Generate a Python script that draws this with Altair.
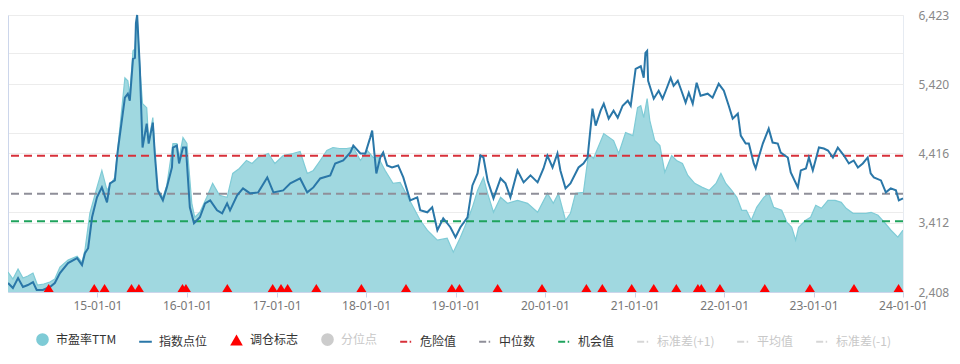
import altair as alt
import pandas as pd

# ---------------- data ----------------
index_dates = [
    "2014-01-01", "2014-01-21", "2014-02-11", "2014-03-03", "2014-03-23", "2014-04-13", "2014-04-28", "2014-05-23",
    "2014-06-21", "2014-07-11", "2014-08-01", "2014-09-03", "2014-10-10", "2014-10-30", "2014-11-11", "2014-11-24",
    "2014-12-10", "2014-12-30",
    "2015-01-19", "2015-02-09", "2015-02-21", "2015-03-13", "2015-03-25", "2015-04-23", "2015-05-05", "2015-05-13",
    "2015-05-26", "2015-06-03", "2015-06-07", "2015-06-12", "2015-06-23", "2015-07-04", "2015-07-21", "2015-07-29",
    "2015-08-15", "2015-08-23", "2015-09-04", "2015-09-25", "2015-10-11", "2015-11-01", "2015-11-05", "2015-11-21",
    "2015-11-30", "2015-12-16", "2015-12-28",
    "2016-01-13", "2016-01-30", "2016-02-23", "2016-03-15", "2016-04-05", "2016-05-03", "2016-05-24", "2016-06-13",
    "2016-06-25", "2016-07-24", "2016-08-17", "2016-09-15", "2016-10-18", "2016-11-24", "2016-12-19",
    "2017-01-28", "2017-02-26", "2017-04-07", "2017-05-06", "2017-05-31", "2017-06-28", "2017-08-08", "2017-08-28",
    "2017-09-30", "2017-10-29", "2017-11-10", "2017-12-09", "2017-12-29",
    "2018-01-18", "2018-01-26", "2018-02-12", "2018-02-28", "2018-03-12", "2018-03-28", "2018-04-17", "2018-05-12",
    "2018-06-02", "2018-06-30", "2018-07-29", "2018-08-10", "2018-09-08", "2018-09-28", "2018-10-19", "2018-11-12",
    "2018-12-11",
    "2019-01-01", "2019-01-21", "2019-02-19", "2019-03-11", "2019-04-01", "2019-04-13", "2019-04-25", "2019-05-12",
    "2019-06-05", "2019-07-04", "2019-07-24", "2019-08-13", "2019-09-11", "2019-10-06", "2019-11-03", "2019-12-02",
    "2019-12-26",
    "2020-01-11", "2020-02-01", "2020-02-21", "2020-03-04", "2020-03-25", "2020-04-14", "2020-05-17", "2020-06-06",
    "2020-06-23", "2020-07-13", "2020-07-26", "2020-08-15", "2020-08-28", "2020-09-17", "2020-10-07", "2020-10-24",
    "2020-11-13", "2020-12-04", "2020-12-16",
    "2021-01-05", "2021-01-26", "2021-02-07", "2021-02-14", "2021-02-21", "2021-02-25", "2021-03-20", "2021-04-09",
    "2021-04-25", "2021-05-08", "2021-05-28", "2021-06-09", "2021-06-26", "2021-07-08", "2021-07-28", "2021-08-10",
    "2021-08-26", "2021-09-11", "2021-09-27", "2021-10-26", "2021-11-15", "2021-12-10", "2021-12-31",
    "2022-01-20", "2022-02-05", "2022-02-26", "2022-03-10", "2022-03-30", "2022-04-12", "2022-05-02", "2022-05-10",
    "2022-05-22", "2022-06-08", "2022-07-02", "2022-07-18", "2022-08-08", "2022-08-20", "2022-09-18", "2022-09-30",
    "2022-10-29", "2022-11-10", "2022-12-01", "2022-12-13", "2022-12-29",
    "2023-01-23", "2023-02-12", "2023-03-01", "2023-03-21", "2023-04-10", "2023-05-05", "2023-05-25", "2023-06-14",
    "2023-07-01", "2023-07-21", "2023-08-10", "2023-08-22", "2023-09-04", "2023-10-03", "2023-10-23", "2023-11-12",
    "2023-12-03", "2023-12-15", "2024-01-01",
]
index_values = [
    2538, 2466, 2610, 2480, 2509, 2552, 2437, 2437, 2480, 2538, 2682, 2827, 2899, 2798, 2971, 3043, 3491, 3780,
    3924, 3708, 3982, 4025, 4459, 5224, 5282, 5181, 5787, 5802, 6307, 6423, 5657, 4502, 4848, 4560, 4863, 4415,
    3881, 3737, 3924, 4213, 4502, 4531, 4271, 4502, 4502,
    3636, 3404, 3491, 3693, 3737, 3592, 3549, 3693, 3592, 3809, 3910, 3838, 3852, 4069, 3852,
    3881, 3982, 4054, 3852, 3924, 4054, 4098, 4271, 4314, 4430, 4531, 4415, 4415,
    4646, 4748, 4127, 4358, 4430, 4242, 4213, 4242, 4069, 3737, 3780, 3592, 3563, 3636, 3303, 3477, 3347,
    3202, 3347, 3491, 3953, 4127, 4386, 4358, 4025, 3765, 4054, 3982, 3780, 4170, 3997, 4098, 3997, 4199,
    4386, 4213, 4415, 4170, 3910, 3982, 4213, 4271, 4358, 5065, 4820, 5036, 5137, 4921, 5036, 4935, 5108, 5181, 5108,
    5643, 5680, 5513, 5874, 5903, 5470, 5210, 5325, 5210, 5325, 5513, 5397, 5470, 5354, 5152, 5296, 5137, 5441,
    5253, 5282, 5224, 5426, 5325,
    5108, 4921, 4993, 4675, 4560, 4560, 4271, 4199, 4358, 4560, 4776, 4574, 4560, 4430, 4358, 4141, 3924, 4170,
    4199, 4358, 4170,
    4502, 4488, 4459, 4358, 4502, 4386, 4271, 4314, 4213, 4271, 4358, 4127, 4069, 4025, 3852, 3910, 3881, 3737,
    3765,
]

pe_dates = [
    "2014-01-01", "2014-01-21", "2014-02-11", "2014-03-03", "2014-03-23", "2014-04-13", "2014-05-01", "2014-05-27",
    "2014-06-21", "2014-07-11", "2014-08-01", "2014-09-03", "2014-10-10", "2014-10-30", "2014-11-11", "2014-12-01",
    "2014-12-30",
    "2015-01-19", "2015-02-09", "2015-03-13", "2015-03-25", "2015-04-23", "2015-05-05", "2015-05-13", "2015-05-26",
    "2015-06-03", "2015-06-12", "2015-06-23", "2015-07-04", "2015-07-21", "2015-07-29", "2015-08-15", "2015-08-31",
    "2015-09-25", "2015-10-11", "2015-11-05", "2015-11-21", "2015-11-30", "2015-12-16",
    "2016-01-01", "2016-01-21", "2016-02-02", "2016-02-23", "2016-03-22", "2016-04-15", "2016-05-13", "2016-06-13",
    "2016-07-06", "2016-08-02", "2016-08-31", "2016-09-23", "2016-10-18", "2016-11-28", "2016-12-25",
    "2017-01-28", "2017-03-08", "2017-04-07", "2017-05-06", "2017-05-31", "2017-06-28", "2017-07-25", "2017-08-19",
    "2017-09-15", "2017-10-13", "2017-11-10", "2017-12-09",
    "2018-01-06", "2018-01-30", "2018-02-20", "2018-03-20", "2018-04-21", "2018-05-20", "2018-06-17", "2018-07-13",
    "2018-08-10", "2018-09-08", "2018-10-19", "2018-11-28", "2018-12-23",
    "2019-01-21", "2019-02-19", "2019-03-11", "2019-04-01", "2019-04-25", "2019-05-12", "2019-06-05", "2019-07-04",
    "2019-08-01", "2019-09-11", "2019-10-22", "2019-12-02",
    "2020-01-11", "2020-02-04", "2020-02-25", "2020-03-25", "2020-04-14", "2020-05-05", "2020-06-06", "2020-06-27",
    "2020-07-17", "2020-08-28", "2020-10-07", "2020-10-28", "2020-11-25", "2020-12-25",
    "2021-01-13", "2021-01-26", "2021-02-07", "2021-02-21", "2021-03-04", "2021-03-24", "2021-04-14", "2021-05-04",
    "2021-06-01", "2021-06-21", "2021-07-15", "2021-08-06", "2021-09-03", "2021-10-04", "2021-11-01", "2021-11-29",
    "2021-12-19",
    "2022-01-08", "2022-02-01", "2022-02-22", "2022-03-14", "2022-04-02", "2022-04-22", "2022-05-14", "2022-06-12",
    "2022-07-02", "2022-07-22", "2022-08-24", "2022-09-14", "2022-10-04", "2022-10-20", "2022-11-01", "2022-11-30",
    "2022-12-20",
    "2023-01-10", "2023-02-02", "2023-03-01", "2023-03-30", "2023-04-24", "2023-05-14", "2023-06-11", "2023-07-10",
    "2023-08-03", "2023-08-24", "2023-09-21", "2023-10-20", "2023-11-13", "2023-12-11", "2024-01-01",
]
pe_values = [
    9.00, 8.65, 9.15, 8.70, 8.80, 8.95, 8.35, 8.40, 8.50, 8.65, 9.25, 9.60, 9.80, 9.50, 10.10, 11.95, 13.25,
    14.10, 13.10, 13.75, 15.20, 18.75, 18.60, 17.85, 20.10, 20.20, 21.85, 19.25, 17.45, 17.25, 15.60, 16.75, 13.25,
    12.75, 13.35, 15.45, 15.45, 14.70, 15.75,
    15.45, 12.45, 11.75, 12.00, 12.75, 13.45, 12.85, 12.75, 13.95, 14.20, 14.60, 14.45, 14.75, 14.95, 14.45,
    14.85, 14.95, 15.05, 13.95, 14.10, 14.60, 15.10, 15.25, 15.20, 15.20, 15.25, 14.60,
    15.10, 14.75, 14.75, 14.10, 13.45, 13.50, 12.85, 12.25, 11.60, 11.10, 10.60, 10.70, 10.00,
    10.75, 11.60, 12.25, 13.10, 13.75, 12.95, 12.00, 12.75, 12.45, 12.60, 12.45, 12.00,
    12.95, 12.45, 12.95, 11.60, 11.95, 12.95, 13.00, 14.95, 14.70, 15.95, 15.60, 14.95, 16.00, 15.85,
    17.25, 17.35, 16.75, 17.70, 16.60, 15.60, 15.35, 14.00, 14.85, 14.60, 14.45, 13.85, 13.45, 13.25, 13.10, 13.45,
    13.95,
    13.45, 13.10, 12.75, 12.10, 12.10, 11.60, 12.25, 12.75, 12.95, 12.25, 12.10, 11.50, 11.25, 10.60, 11.25, 11.60,
    11.75,
    12.35, 12.20, 12.60, 12.60, 12.50, 12.20, 11.95, 11.95, 11.95, 12.00, 11.85, 11.45, 11.10, 10.75, 11.10,
]

rebalance_dates = [
    "2014-06-16", "2014-12-19", "2015-01-30", "2015-05-20", "2015-06-19", "2015-12-14", "2015-12-28",
    "2016-06-14", "2016-12-16", "2017-01-19", "2017-02-15", "2017-06-12", "2017-12-13", "2018-06-13",
    "2018-12-17", "2019-01-17", "2019-06-22", "2019-12-20", "2020-06-18", "2020-08-22", "2020-12-20",
    "2021-03-20", "2021-06-20", "2021-09-16", "2021-09-30", "2021-12-15", "2022-06-16", "2022-12-17",
    "2023-06-15", "2023-12-14",
]

threshold_names = ["危险值", "中位数", "机会值"]
threshold_values = [14.84, 12.93, 11.55]

x_tick_years = list(range(2015, 2025))
index_ticks = [2408, 3412, 4416, 5420, 6423]
pe_grid_ticks = [8, 12, 16, 20]
pe_domain = [8, 21.9]

legend_names = ["市盈率TTM", "指数点位", "调仓标志", "分位点", "危险值", "中位数", "机会值",
                "标准差(+1)", "平均值", "标准差(-1)"]
legend_disabled = ["分位点", "标准差(+1)", "平均值", "标准差(-1)"]

# ---------------- styles ----------------
AREA_FILL = "#a0d8e0"
AREA_EDGE = "#7fcbd6"
LINE_COLOR = "#2a77a8"
RED = "#d7303a"
GRAY = "#8f8f99"
GREEN = "#1fa35d"
OFF = "#d6d6d6"
threshold_colors = [RED, GRAY, GREEN]

fill_range = ["#7ecbd6", "transparent", "#ff0000", "#cccccc"] + ["transparent"] * 6
stroke_range = ["transparent", LINE_COLOR, "transparent", "transparent", RED, GRAY, GREEN, OFF, OFF, OFF]
shape_range = ["circle", "stroke", "triangle-up", "circle"] + ["stroke"] * 6
dash_range = [[1, 0]] * 4 + [[7, 2.5, 1.5, 2.5]] * 6

idx_df = pd.DataFrame({"date": index_dates, "idx": index_values})
pe_df = pd.DataFrame({"date": pe_dates, "pe": pe_values})
reb_df = pd.DataFrame({"date": rebalance_dates})
thr_df = pd.DataFrame({"name": threshold_names, "value": threshold_values, "color": threshold_colors})
leg_df = pd.DataFrame({"series": legend_names})

x_scale = alt.Scale(
    type="utc",
    domain=[alt.DateTime(year=2014, month=1, date=1, utc=True), alt.DateTime(year=2024, month=1, date=1, utc=True)],
    nice=False,
)
x_axis = alt.Axis(
    values=[alt.DateTime(year=y, month=1, date=1, utc=True) for y in x_tick_years],
    format="%y-%m-%d", grid=False, domain=True, domainColor="#ccd6eb", tickColor="#ccd6eb", tickSize=5,
    labelColor="#777777", labelFont="Noto Sans", labelFontSize=12, labelPadding=3, labelFlush=False,
    title=None,
)
x_enc = alt.X("date:T", scale=x_scale, axis=x_axis)

pe_scale = alt.Scale(domain=pe_domain, nice=False, zero=False)
pe_axis = alt.Axis(orient="left", values=pe_grid_ticks, labels=False, ticks=False, domain=True,
                   domainColor="#ccd6eb", grid=True, gridColor="#ececec", title=None,
                   minExtent=0, maxExtent=0)

idx_scale = alt.Scale(domain=[index_ticks[0], index_ticks[-1]], nice=False, zero=False)
idx_axis = alt.Axis(orient="right", values=index_ticks, format=",d", grid=True, gridColor="#ececec",
                    ticks=False, domain=False, labelPadding=15, labelColor="#888888",
                    labelFont="Noto Sans", labelFontSize=12, title=None)

area = alt.Chart(pe_df).mark_area(
    color=AREA_FILL, opacity=1, clip=True, line={"color": AREA_EDGE, "strokeWidth": 1.2}
).encode(x=x_enc, y=alt.Y("pe:Q", scale=pe_scale, axis=pe_axis))

rules = alt.Chart(thr_df).mark_rule(strokeDash=[8, 5], strokeWidth=2).encode(
    y=alt.Y("value:Q", scale=pe_scale, axis=pe_axis),
    color=alt.Color("color:N", scale=None),
)

line = alt.Chart(idx_df).mark_line(color=LINE_COLOR, strokeWidth=2).encode(
    x=x_enc, y=alt.Y("idx:Q", scale=idx_scale, axis=idx_axis)
)

# rebalance markers sit on the bottom edge of the plot
tri = alt.Chart(reb_df).mark_point(
    shape="M-1,0L1,0L0,-1.6Z", filled=True, color="#ff0000", size=100, opacity=1
).encode(x=x_enc, y=alt.value("height"))

label_color_expr = ("indexof([" + ",".join("'" + n + "'" for n in legend_disabled) + "], datum.value) >= 0"
                    " ? '#c8c8c8' : '#333333'")
leg = alt.Legend(
    title=None, orient="none", legendX=27, legendY=317, direction="horizontal", columns=len(legend_names),
    symbolSize=160, symbolStrokeWidth=2, symbolOpacity=1, labelFont="Noto Sans CJK SC", labelFontSize=12,
    labelColor={"expr": label_color_expr}, labelOffset=6, columnPadding=18, padding=0,
)
legend_layer = alt.Chart(leg_df).transform_filter("false").mark_point(opacity=1, size=160, strokeWidth=2).encode(
    fill=alt.Fill("series:N", scale=alt.Scale(domain=legend_names, range=fill_range), legend=leg),
    stroke=alt.Stroke("series:N", scale=alt.Scale(domain=legend_names, range=stroke_range), legend=leg),
    shape=alt.Shape("series:N", scale=alt.Scale(domain=legend_names, range=shape_range), legend=leg),
    strokeDash=alt.StrokeDash("series:N", scale=alt.Scale(domain=legend_names, range=dash_range), legend=leg),
)

chart = alt.layer(
    alt.layer(area, rules),
    alt.layer(line, tri),
    legend_layer,
).resolve_scale(y="independent").properties(
    width=895, height=277,
    padding={"left": -4, "top": 1, "right": 2, "bottom": 0},
    background="white",
).configure_view(stroke="#e6ebf2")

chart.save("out.html", embed_options={"renderer": "svg", "actions": False})
